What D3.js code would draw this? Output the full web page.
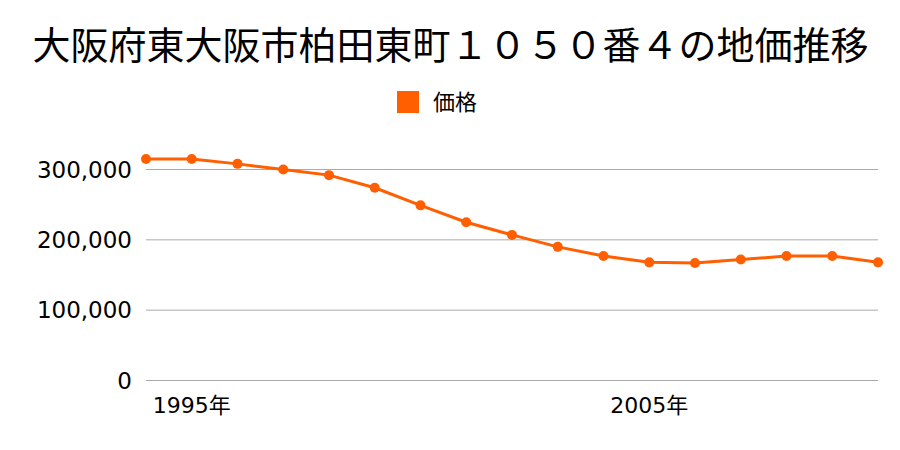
<!DOCTYPE html>
<html>
<head>
<meta charset="utf-8">
<script src="https://cdn.jsdelivr.net/npm/d3@7"></script>
<style>
  body { margin: 0; background: #fff; }
  text { fill: #000; }
</style>
</head>
<body>
<div class="app"></div>
<script>
// Data
const years = [1994, 1995, 1996, 1997, 1998, 1999, 2000, 2001, 2002, 2003, 2004, 2005, 2006, 2007, 2008, 2009, 2010];
const prices = [315000, 315000, 308000, 300000, 292000, 274000, 249000, 225000, 207000, 190000, 177000, 168000, 167000, 172000, 177000, 177000, 168000];
const yTicks = [0, 100000, 200000, 300000];
const xLabelYears = [1995, 2005];
const title = '大阪府東大阪市柏田東町１０５０番４の地価推移';
const seriesName = '価格';

// Setup
const width = 900;
const height = 450;
const color = '#ff5f00';
const cjk = '"Noto Sans CJK JP", sans-serif';
const num = '"DejaVu Sans", "Noto Sans CJK JP", sans-serif';

const svg = d3.select('.app')
  .append('svg')
  .attr('width', width)
  .attr('height', height)
  .attr('viewBox', [0, 0, width, height]);

const x = d3.scalePoint()
  .domain(years)
  .range([146, 878]);

const y = d3.scaleLinear()
  .domain([0, 300000])
  .range([380.5, 169.5]);

// Title
svg.append('text')
  .attr('x', 450.5)
  .attr('y', 59)
  .attr('text-anchor', 'middle')
  .style('font-family', cjk)
  .attr('font-size', 38)
  .text(title);

// Legend
svg.append('rect')
  .attr('x', 397)
  .attr('y', 91)
  .attr('width', 22)
  .attr('height', 22)
  .attr('fill', color);

svg.append('text')
  .attr('x', 433)
  .attr('y', 110)
  .style('font-family', cjk)
  .attr('font-size', 22)
  .text(seriesName);

// Grid + y labels
svg.append('g')
  .selectAll('line')
  .data(yTicks)
  .join('line')
  .attr('x1', 146)
  .attr('x2', 878)
  .attr('y1', d => y(d))
  .attr('y2', d => y(d))
  .attr('stroke', '#aaa')
  .attr('stroke-width', 1);

svg.append('g')
  .selectAll('text')
  .data(yTicks)
  .join('text')
  .attr('x', 132)
  .attr('y', d => y(d))
  .attr('dy', '0.36em')
  .attr('text-anchor', 'end')
  .style('font-family', num)
  .attr('font-size', 23)
  .text(d => d3.format(',')(d));

// x labels
svg.append('g')
  .selectAll('text')
  .data(xLabelYears)
  .join('text')
  .attr('x', d => x(d))
  .attr('y', 413)
  .attr('text-anchor', 'middle')
  .style('font-family', num)
  .attr('font-size', 22)
  .text(d => d + '年');

// Line
const line = d3.line()
  .x((d, i) => x(years[i]))
  .y(d => y(d));

svg.append('path')
  .datum(prices)
  .attr('fill', 'none')
  .attr('stroke', color)
  .attr('stroke-width', 3)
  .attr('d', line);

svg.append('g')
  .selectAll('circle')
  .data(prices)
  .join('circle')
  .attr('cx', (d, i) => x(years[i]))
  .attr('cy', d => y(d))
  .attr('r', 5)
  .attr('fill', color);
</script>
</body>
</html>
